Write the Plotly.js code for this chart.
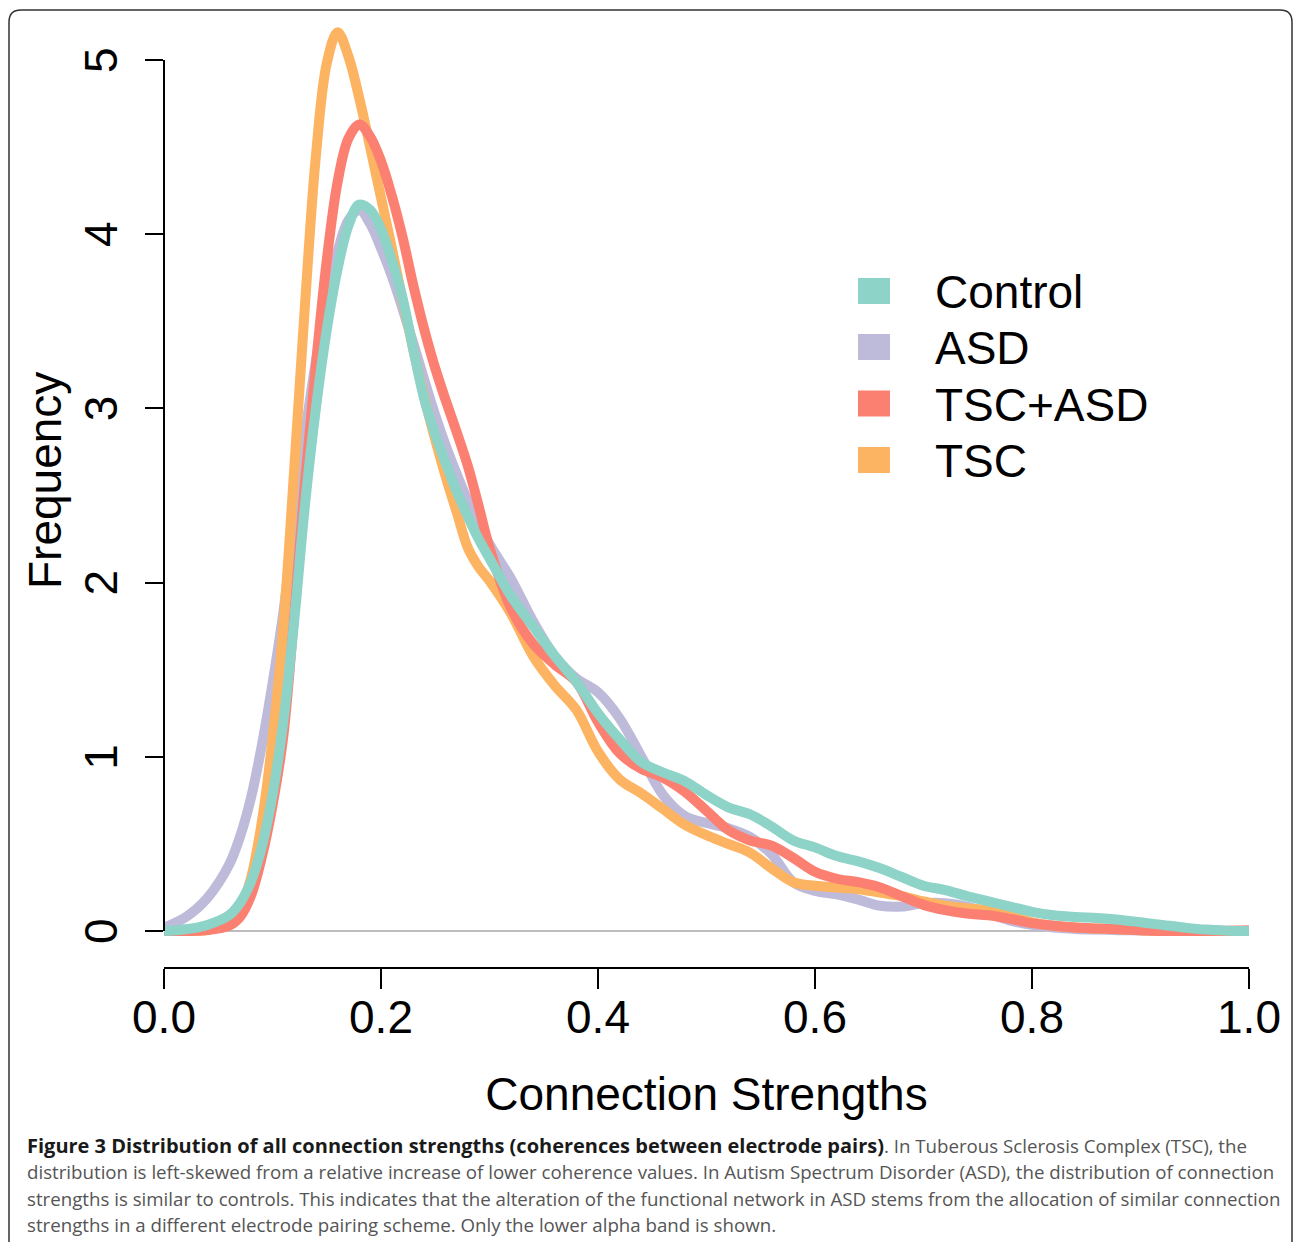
<!DOCTYPE html>
<html>
<head>
<meta charset="utf-8">
<script src="https://cdn.plot.ly/plotly-3.0.1.min.js"></script>
<style>
  html, body { margin: 0; padding: 0; background: #ffffff; }
  #chart { width: 1293px; height: 1242px; }
</style>
</head>
<body>
<div id="chart"></div>
<script>
// ---------- data ----------
const strength = [0.00,0.02,0.04,0.06,0.07,0.08,0.09,0.10,0.11,0.12,0.13,0.14,0.15,0.16,0.17,0.18,0.19,0.20,0.21,0.22,0.23,0.24,0.25,0.26,0.27,0.28,0.29,0.30,0.32,0.34,0.36,0.38,0.40,0.42,0.44,0.46,0.48,0.50,0.52,0.54,0.56,0.58,0.60,0.62,0.64,0.66,0.68,0.70,0.72,0.74,0.76,0.78,0.80,0.82,0.84,0.86,0.88,0.90,0.92,0.94,0.96,0.98,1.00];

const control = [0.0,0.01,0.035,0.09,0.16,0.28,0.48,0.78,1.2,1.78,2.45,3.0,3.45,3.8,4.05,4.17,4.14,4.03,3.85,3.63,3.33,3.05,2.85,2.68,2.52,2.38,2.25,2.14,1.92,1.75,1.58,1.43,1.25,1.10,0.97,0.91,0.86,0.78,0.71,0.67,0.60,0.52,0.48,0.43,0.40,0.36,0.31,0.26,0.235,0.20,0.17,0.14,0.11,0.09,0.08,0.075,0.065,0.05,0.035,0.02,0.008,0.002,0.0];

const asd = [0.02,0.08,0.19,0.38,0.54,0.76,1.06,1.42,1.83,2.35,2.85,3.27,3.62,3.9,4.08,4.14,4.06,3.92,3.76,3.57,3.37,3.16,2.96,2.78,2.62,2.47,2.34,2.22,2.02,1.78,1.58,1.45,1.37,1.22,1.0,0.78,0.66,0.62,0.59,0.54,0.44,0.28,0.23,0.21,0.18,0.145,0.14,0.16,0.16,0.14,0.10,0.06,0.035,0.02,0.012,0.008,0.005,0.003,0.002,0.001,0.0,0.0,0.0];

const tscAsd = [0.0,0.0,0.005,0.03,0.08,0.2,0.42,0.72,1.12,1.82,2.58,3.25,3.85,4.3,4.55,4.63,4.56,4.42,4.22,3.98,3.7,3.45,3.23,3.04,2.86,2.67,2.44,2.2,1.85,1.65,1.53,1.43,1.2,1.02,0.93,0.88,0.80,0.69,0.58,0.52,0.49,0.42,0.34,0.30,0.28,0.25,0.20,0.15,0.12,0.10,0.09,0.07,0.045,0.03,0.02,0.015,0.01,0.005,0.0,0.0,0.0,0.002,0.005];

const tsc = [0.0,0.0,0.005,0.05,0.13,0.3,0.62,1.1,1.75,2.65,3.6,4.45,4.98,5.16,5.02,4.78,4.5,4.21,3.92,3.62,3.33,3.06,2.82,2.6,2.4,2.2,2.09,2.01,1.82,1.58,1.41,1.27,1.03,0.87,0.79,0.70,0.61,0.55,0.50,0.45,0.36,0.28,0.26,0.25,0.24,0.22,0.20,0.17,0.145,0.13,0.12,0.09,0.05,0.03,0.02,0.015,0.01,0.005,0.0,0.0,0.0,0.0,0.0];

const groupNames  = ["Control", "ASD", "TSC+ASD", "TSC"];
const groupColors = ["#8DD3C7", "#BEBADA", "#FB8072", "#FDB462"];

const xTickVals = [0, 0.2, 0.4, 0.6, 0.8, 1.0];
const xTickText = ["0.0", "0.2", "0.4", "0.6", "0.8", "1.0"];
const yTickVals = [0, 1, 2, 3, 4, 5];
const yTickText = ["0", "1", "2", "3", "4", "5"];

const xTitle = "Connection Strengths";
const yTitle = "Frequency";

const captionLines = [
  "<span style=\"color:#1a1a1a;font-weight:bold;font-size:20px\">Figure 3 Distribution of all connection strengths (coherences between electrode pairs)</span>. In Tuberous Sclerosis Complex (TSC), the",
  "distribution is left-skewed from a relative increase of lower coherence values. In Autism Spectrum Disorder (ASD), the distribution of connection",
  "strengths is similar to controls. This indicates that the alteration of the functional network in ASD stems from the allocation of similar connection",
  "strengths in a different electrode pairing scheme. Only the lower alpha band is shown."
];

// ---------- layout helpers (pixel -> paper) ----------
const W = 1293, H = 1242;
const L = 164, R = 1249, T = 20, B = 967;
const px = p => (p - L) / (R - L);
const py = p => (B - p) / (B - T);

const seriesByName = { "Control": control, "ASD": asd, "TSC+ASD": tscAsd, "TSC": tsc };
const drawOrder = ["ASD", "TSC", "TSC+ASD", "Control"];

const traces = drawOrder.map(name => ({
  type: "scatter",
  mode: "lines",
  name: name,
  x: strength,
  y: seriesByName[name],
  line: { color: groupColors[groupNames.indexOf(name)], width: 10, shape: "spline", smoothing: 1.0 },
  showlegend: false,
  hoverinfo: "skip"
}));

const shapes = [];
const annotations = [];

const axisFont = { family: "Liberation Sans, Arial, sans-serif", size: 46, color: "#000" };

// y axis line spanning the tick range
shapes.push({ type: "line", xref: "paper", yref: "y", x0: 0, x1: 0, y0: 0, y1: 5,
  line: { color: "#000", width: 2 } });

// outer rounded frame
(function () {
  const x0 = px(9), x1 = px(1292), yt = py(10), yb = py(1260);
  const rx = 12 / (R - L), ry = 12 / (B - T);
  const path = `M ${x0},${yb} L ${x0},${yt - ry} Q ${x0},${yt} ${x0 + rx},${yt} ` +
               `L ${x1 - rx},${yt} Q ${x1},${yt} ${x1},${yt - ry} L ${x1},${yb}`;
  shapes.push({ type: "path", xref: "paper", yref: "paper", path: path,
    line: { color: "#333", width: 1.5 }, layer: "above" });
})();

// y axis title (placed as rotated text, as in the original figure)
annotations.push({ xref: "paper", yref: "paper", x: px(45), y: py(481),
  xanchor: "center", yanchor: "middle", textangle: -90, showarrow: false,
  text: yTitle, font: axisFont });

// legend built from squares and labels
const legendCentersY = [291, 347, 403.5, 460];
groupNames.forEach((name, i) => {
  const cy = legendCentersY[i];
  shapes.push({ type: "rect", xref: "paper", yref: "paper",
    x0: px(858), x1: px(890), y0: py(cy + 13), y1: py(cy - 13),
    fillcolor: groupColors[i], line: { width: 0 } });
  annotations.push({ xref: "paper", yref: "paper", x: px(933), y: py(cy + 1),
    xanchor: "left", yanchor: "middle", showarrow: false, text: name,
    font: axisFont });
});

// caption
const captionY = [1145, 1171.5, 1198, 1224.5];
captionLines.forEach((line, i) => {
  annotations.push({ xref: "paper", yref: "paper", x: px(25), y: py(captionY[i]),
    xanchor: "left", yanchor: "middle", showarrow: false, text: line, align: "left",
    font: { family: "Open Sans, sans-serif", size: 18.7, color: "#555" } });
});

const layout = {
  width: W, height: H,
  margin: { l: L, r: W - R, t: T, b: H - B, pad: 0 },
  paper_bgcolor: "#fff", plot_bgcolor: "#fff",
  showlegend: false,
  xaxis: {
    range: [0, 1], tickvals: xTickVals, ticktext: xTickText,
    ticks: "outside", ticklen: 20, tickwidth: 2, tickcolor: "#000",
    showline: true, linecolor: "#000", linewidth: 2,
    showgrid: false, zeroline: false, tickfont: axisFont,
    ticklabelstandoff: -11,
    title: { text: xTitle, font: axisFont, standoff: 36 },
    automargin: false, fixedrange: true
  },
  yaxis: {
    range: [-(B - 931) / 174.2, (931 - T) / 174.2],
    tickvals: yTickVals, ticktext: yTickText, tickangle: -90,
    ticks: "outside", ticklen: 18, tickwidth: 2, tickcolor: "#000",
    showline: false, showgrid: false,
    zeroline: true, zerolinecolor: "#bdbdbd", zerolinewidth: 1.5,
    tickfont: axisFont, ticklabelstandoff: 10, ticklabelshift: 7,
    automargin: false, fixedrange: true
  },
  shapes: shapes,
  annotations: annotations
};

Plotly.newPlot("chart", traces, layout, { staticPlot: true, displayModeBar: false });
</script>
</body>
</html>
